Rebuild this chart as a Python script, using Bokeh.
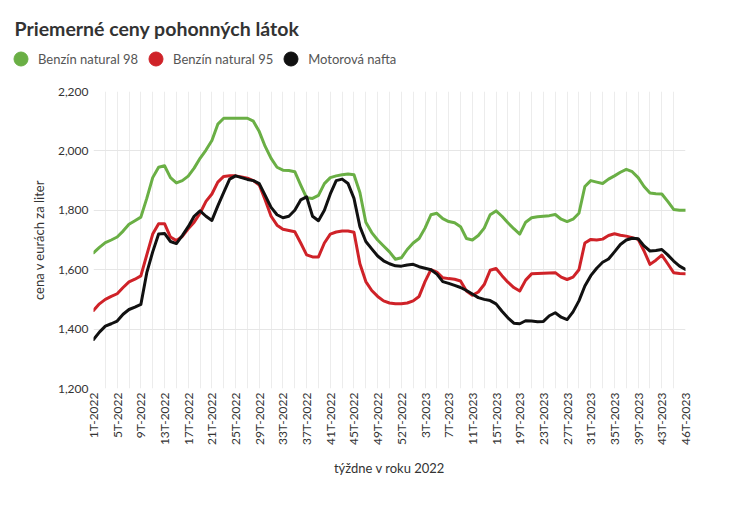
import math
from bokeh.plotting import figure
from bokeh.layouts import column
from bokeh.models import (Range1d, FixedTicker, NumeralTickFormatter, Legend, LegendItem,
                          ColumnDataSource, Label)
from bokeh.embed import file_html
from bokeh.resources import INLINE

# ---- data ----
tick_labels = ["1T-2022", "5T-2022", "9T-2022", "13T-2022", "17T-2022", "21T-2022", "25T-2022",
               "29T-2022", "33T-2022", "37T-2022", "41T-2022", "45T-2022", "49T-2022", "52T-2022",
               "3T-2023", "7T-2023", "11T-2023", "15T-2023", "19T-2023", "23T-2023", "27T-2023",
               "31T-2023", "35T-2023", "39T-2023", "43T-2023", "46T-2023"]

benzin98 = [1657, 1675, 1691, 1700, 1710, 1730, 1753, 1765, 1777, 1840,
            1910, 1945, 1950, 1910, 1892, 1900, 1915, 1942, 1975, 2003,
            2035, 2090, 2110, 2110, 2110, 2110, 2110, 2100, 2065, 2015,
            1975, 1945, 1935, 1934, 1930, 1885, 1842, 1840, 1850, 1890,
            1910, 1916, 1920, 1922, 1920, 1860, 1760, 1725, 1700, 1680,
            1660, 1635, 1640, 1668, 1690, 1705, 1740, 1785, 1790, 1772,
            1762, 1758, 1745, 1705, 1700, 1715, 1740, 1785, 1798, 1780,
            1758, 1738, 1720, 1760, 1775, 1778, 1780, 1782, 1786, 1770,
            1762, 1770, 1790, 1880, 1900, 1895, 1890, 1905, 1916, 1928,
            1938, 1930, 1910, 1880, 1858, 1856, 1855, 1830, 1803, 1800, 1800]

benzin95 = [1463, 1485, 1500, 1510, 1519, 1540, 1559, 1568, 1579, 1650,
            1720, 1755, 1755, 1710, 1698, 1712, 1738, 1760, 1790, 1830,
            1855, 1895, 1914, 1916, 1916, 1912, 1908, 1900, 1885, 1835,
            1780, 1750, 1736, 1732, 1728, 1690, 1650, 1643, 1643, 1690,
            1720, 1727, 1730, 1730, 1726, 1620, 1560, 1530, 1510, 1495,
            1488, 1485, 1485, 1488, 1495, 1510, 1560, 1600, 1592, 1573,
            1570, 1568, 1562, 1528, 1514, 1525, 1550, 1598, 1604, 1580,
            1558, 1540, 1528, 1565, 1586, 1587, 1588, 1589, 1590, 1575,
            1567, 1575, 1600, 1690, 1702, 1700, 1703, 1715, 1721, 1716,
            1713, 1708, 1702, 1663, 1618, 1632, 1649, 1620, 1590, 1587, 1586]

nafta = [1365, 1390, 1410, 1418, 1427, 1450, 1466, 1474, 1483, 1590,
         1660, 1720, 1722, 1695, 1688, 1715, 1745, 1780, 1798, 1780,
         1766, 1815, 1860, 1905, 1916, 1910, 1904, 1900, 1890, 1850,
         1810, 1785, 1775, 1780, 1800, 1835, 1845, 1780, 1765, 1800,
         1855, 1900, 1905, 1890, 1840, 1745, 1695, 1670, 1646, 1630,
         1620, 1613, 1612, 1616, 1618, 1610, 1605, 1600, 1585, 1560,
         1554, 1547, 1540, 1530, 1518, 1506, 1500, 1496, 1485, 1460,
         1438, 1420, 1418, 1428, 1427, 1425, 1426, 1445, 1455, 1440,
         1432, 1458, 1495, 1545, 1580, 1605, 1625, 1636, 1660, 1685,
         1700, 1706, 1704, 1680, 1663, 1665, 1668, 1650, 1629, 1612, 1601]

series_names = ["Benzín natural 98", "Benzín natural 95", "Motorová nafta"]
colors = ["#6aaf45", "#cf2228", "#111111"]
title_text = "Priemerné ceny pohonných látok"

FONT = "Lato"
weeks = list(range(len(benzin98)))
tick_pos = list(range(0, len(weeks), 4))
W = 735

# ---- header: title + legend ----
hdr = figure(width=W, height=80, output_backend="svg", toolbar_location=None,
             x_range=Range1d(0, 1), y_range=Range1d(0, 1), x_axis_type=None, y_axis_type=None,
             min_border=0, frame_align=False)
hdr.outline_line_color = None
hdr.grid.visible = False
hdr.add_layout(Label(x=14, y=52, x_units="screen", y_units="screen", text=title_text,
                     text_font=FONT, text_font_size="19.5px", text_font_style="bold",
                     text_color="#333333", text_baseline="middle"))
items = []
for name, c in zip(series_names, colors):
    r = hdr.scatter(x=[float("nan")], y=[float("nan")], marker="circle", size=14,
                    fill_color=c, line_color=c)
    items.append(LegendItem(label=name, renderers=[r]))
legend = Legend(items=items, orientation="horizontal", location=(3, 4),
                label_text_font=FONT, label_text_font_size="13px", label_text_color="#555555",
                border_line_color=None, background_fill_alpha=0,
                glyph_width=35, glyph_height=35, spacing=0, label_standoff=0,
                padding=0, margin=0)
hdr.add_layout(legend, "center")

# ---- main chart ----
p = figure(width=W, frame_width=592, frame_height=297, output_backend="svg", toolbar_location=None,
           x_range=Range1d(0, len(weeks) - 1), y_range=Range1d(1200, 2200),
           min_border_left=93, min_border_right=50, min_border_top=11, min_border_bottom=10,
           frame_align=False)
p.outline_line_color = None

src = ColumnDataSource(dict(x=weeks, b98=benzin98, b95=benzin95, nafta=nafta))
for col, c in zip(["b98", "b95", "nafta"], colors):
    p.line("x", col, source=src, line_color=c, line_width=3, line_join="round", line_cap="round")

p.xaxis.ticker = FixedTicker(ticks=tick_pos)
p.xaxis.major_label_overrides = {t: lab for t, lab in zip(tick_pos, tick_labels)}
p.xaxis.major_label_orientation = math.pi / 2
p.xaxis.axis_label = "týždne v roku 2022"
p.yaxis.axis_label = "cena v eurách za liter"
p.yaxis.ticker = FixedTicker(ticks=[1200, 1400, 1600, 1800, 2000, 2200])
p.yaxis.formatter = NumeralTickFormatter(format="0,0")
for ax in [p.xaxis[0], p.yaxis[0]]:
    ax.axis_line_color = None
    ax.major_tick_line_color = None
    ax.minor_tick_line_color = None
    ax.major_tick_out = 0
    ax.major_tick_in = 0
    ax.minor_tick_out = 0
    ax.major_label_text_font = FONT
    ax.major_label_text_font_size = "12px"
    ax.major_label_text_color = "#333333"
    ax.axis_label_text_font = FONT
    ax.axis_label_text_font_size = "13px"
    ax.axis_label_text_font_style = "normal"
    ax.axis_label_text_color = "#333333"
p.xaxis.major_label_standoff = 4
p.xaxis.axis_label_standoff = 12
p.yaxis.major_label_standoff = 5
p.yaxis.axis_label_standoff = 8

p.xgrid.ticker = FixedTicker(ticks=list(range(0, len(weeks), 2)))
p.xgrid.grid_line_color = "#ececec"
p.ygrid.grid_line_color = "#e6e6e6"

layout = column(hdr, p, spacing=0)
open("out.html", "w").write(file_html(layout, INLINE))
